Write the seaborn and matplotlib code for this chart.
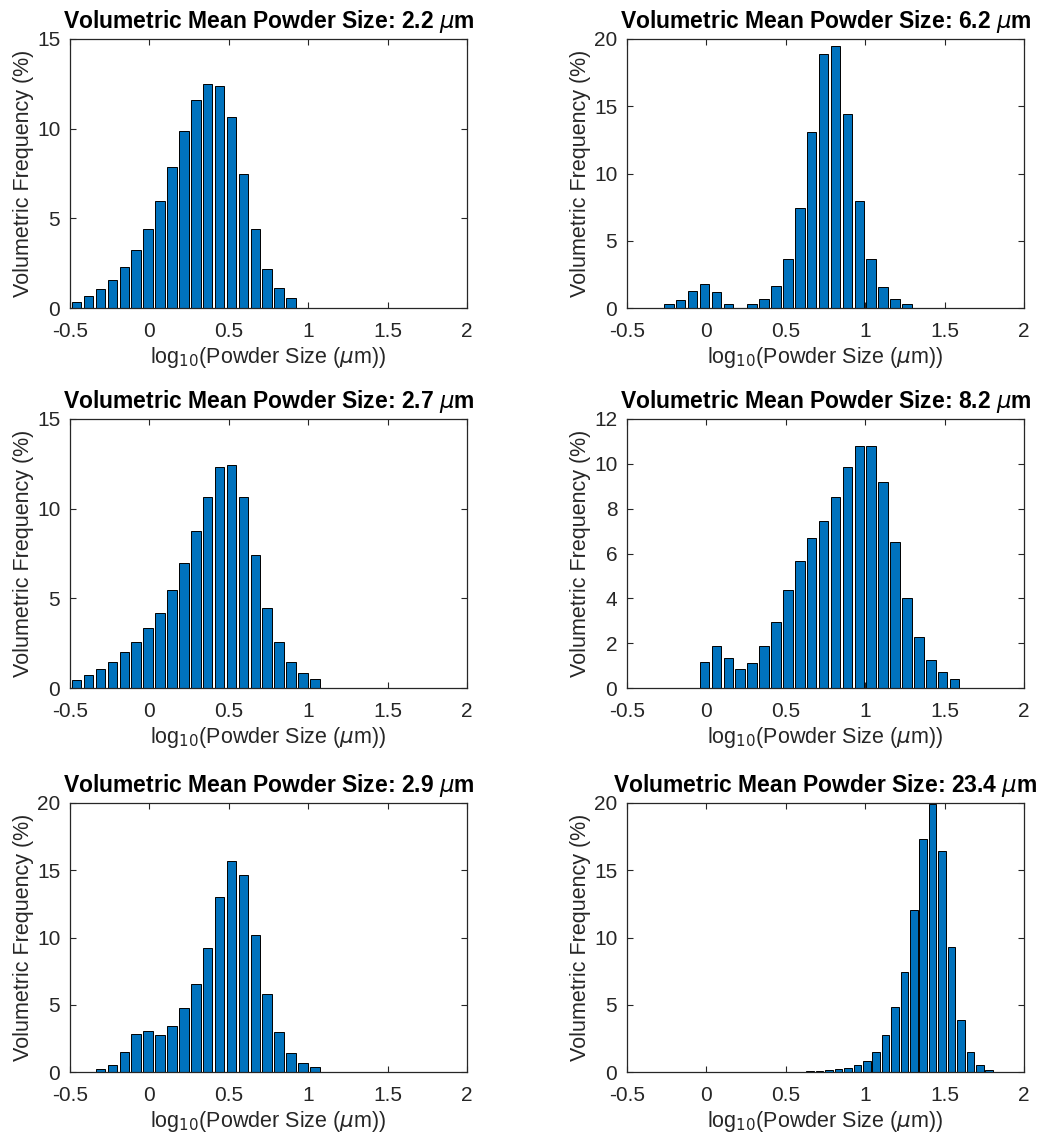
import numpy as np
import pandas as pd
import matplotlib
matplotlib.use("Agg")
import matplotlib.pyplot as plt
import seaborn as sns

# ---------------- data ----------------
titles = ["2.2", "6.2", "2.7", "8.2", "2.9", "23.4"]

# first bin centre (log10 um) and bin width for each panel
p1_start, p1_step = -0.458, 0.075
p1_vals = [0.33, 0.69, 1.06, 1.58, 2.28, 3.21, 4.40, 5.94, 7.87, 9.89, 11.6,
           12.49, 12.39, 10.63, 7.50, 4.40, 2.19, 1.09, 0.56]

p2_start, p2_step = -0.237, 0.075
p2_vals = [0.30, 0.62, 1.29, 1.81, 1.21, 0.30, 0.0, 0.30, 0.67, 1.64, 3.67,
           7.43, 13.1, 18.9, 19.48, 14.4, 7.93, 3.62, 1.54, 0.67, 0.30]

p3_start, p3_step = -0.458, 0.075
p3_vals = [0.46, 0.70, 1.04, 1.44, 1.98, 2.59, 3.33, 4.20, 5.46, 6.96, 8.74,
           10.67, 12.31, 12.41, 10.63, 7.41, 4.44, 2.57, 1.46, 0.83, 0.48]

p4_start, p4_step = -0.012, 0.075
p4_vals = [1.15, 1.89, 1.34, 0.86, 1.10, 1.86, 2.96, 4.36, 5.68, 6.69, 7.43,
           8.52, 9.84, 10.81, 10.81, 9.19, 6.51, 4.01, 2.29, 1.23, 0.70, 0.42]

p5_start, p5_step = -0.308, 0.075
p5_vals = [0.20, 0.50, 1.49, 2.85, 3.03, 2.78, 3.45, 4.76, 6.55, 9.21, 12.98,
           15.71, 14.62, 10.20, 5.78, 2.95, 1.44, 0.69, 0.37]

p6_start, p6_step = 0.654, 0.0593
p6_vals = [0.07, 0.10, 0.12, 0.20, 0.30, 0.50, 0.84, 1.49, 2.78, 4.82, 7.45,
           12.05, 17.32, 19.93, 16.45, 9.27, 3.90, 1.52, 0.55, 0.12]

y_maxes = [15, 20, 15, 12, 20, 20]
y_steps = [5, 5, 5, 2, 5, 5]
x_ticks = [-0.5, 0, 0.5, 1, 1.5, 2]
x_tick_labels = ["-0.5", "0", "0.5", "1", "1.5", "2"]

panels = [(p1_start, p1_step, p1_vals), (p2_start, p2_step, p2_vals),
          (p3_start, p3_step, p3_vals), (p4_start, p4_step, p4_vals),
          (p5_start, p5_step, p5_vals), (p6_start, p6_step, p6_vals)]

# ---------------- style ----------------
sns.set_theme(style="ticks")
plt.rcParams["font.family"] = ["Liberation Sans", "DejaVu Sans"]
plt.rcParams["mathtext.fontset"] = "dejavusans"
plt.rcParams["axes.edgecolor"] = "#262626"
plt.rcParams["axes.linewidth"] = 0.9

BAR_COLOR = "#0072BD"
TXT = "#262626"

fig = plt.figure(figsize=(10.5, 11.47), dpi=100)

W, H = 1050, 1147
lefts = [70, 627]
tops = [39, 419, 803]
aw, ah = 397, 269

for i, (start, step, vals) in enumerate(panels):
    r, c = divmod(i, 2)
    ax = fig.add_axes([lefts[c] / W, 1 - (tops[r] + ah) / H, aw / W, ah / H])
    centers = np.round(start + step * np.arange(len(vals)), 4)
    df = pd.DataFrame({"x": centers, "y": vals})
    sns.barplot(data=df, x="x", y="y", native_scale=True, ax=ax,
                color=BAR_COLOR, saturation=1, width=0.8, errorbar=None,
                edgecolor="black", linewidth=0.7)
    ax.set_axisbelow(True)
    ax.set_xlim(-0.5, 2)
    ax.set_ylim(0, y_maxes[i])
    ax.set_xticks(x_ticks)
    ax.set_xticklabels(x_tick_labels)
    ax.set_yticks(np.arange(0, y_maxes[i] + 0.1, y_steps[i]))
    ax.tick_params(direction="in", top=True, right=True, length=4,
                   width=0.8, labelsize=15, colors=TXT, labelcolor=TXT)
    ax.tick_params(axis="x", pad=10)
    ax.tick_params(axis="y", pad=7)
    for s in ax.spines.values():
        s.set_visible(True)
        s.set_color(TXT)
    ax.set_xlabel(r"log$_{10}$(Powder Size ($\mu$m))", fontsize=15.5, color=TXT,
                  labelpad=3)
    ax.set_ylabel("Volumetric Frequency (%)", fontsize=15.5, color=TXT, labelpad=2)
    ax.set_title(r"Volumetric Mean Powder Size: " + titles[i] + r" $\mu$m",
                 fontsize=16.5, fontweight="bold", color="black", pad=8)

fig.savefig("out.png", dpi=100)
